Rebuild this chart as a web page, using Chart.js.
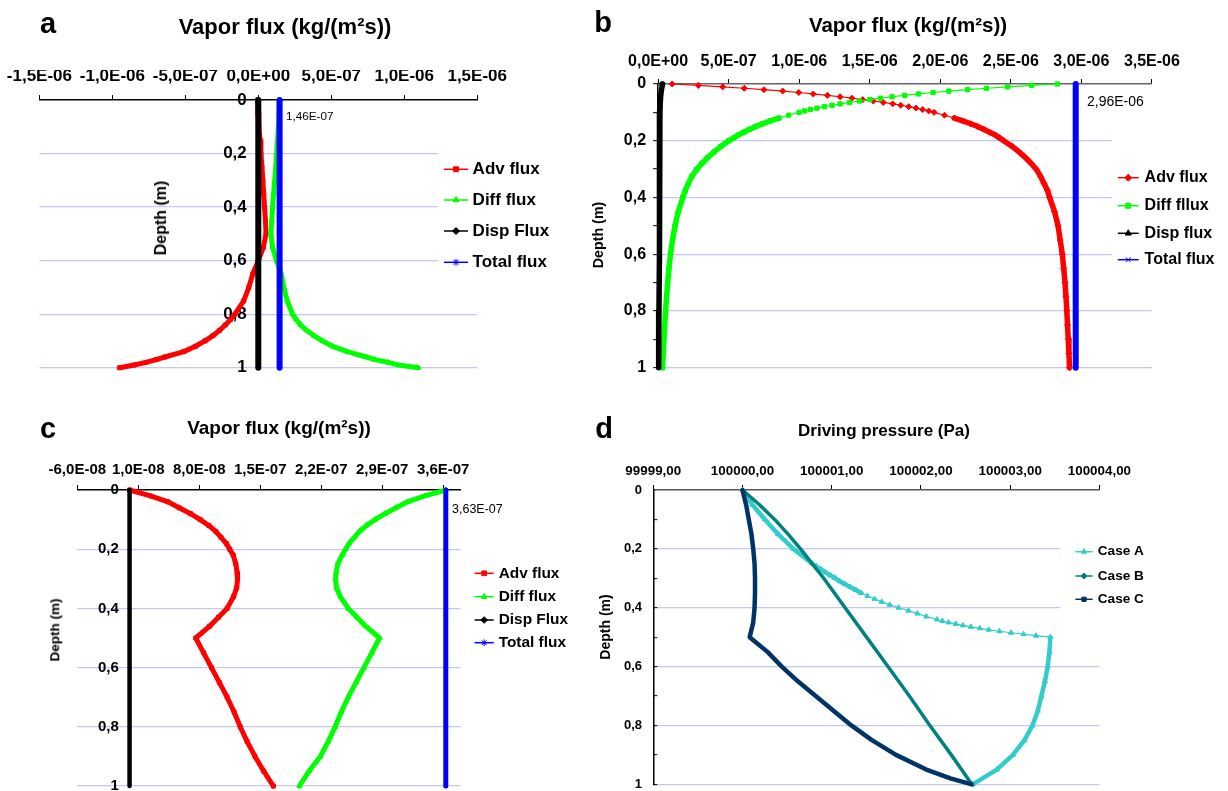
<!DOCTYPE html>
<html>
<head>
<meta charset="utf-8">
<title>Vapor flux profiles</title>
<script src="https://cdn.jsdelivr.net/npm/chart.js@4.4.1/dist/chart.umd.min.js"></script>
<style>
    body { margin: 0; background: #fff; }
    #wrap { position: relative; width: 1228px; height: 791px; overflow: hidden; font-family: "Liberation Sans", Arial, sans-serif; }
    #wrap canvas { position: absolute; left: 0; top: 0; }
    .t { position: absolute; white-space: nowrap; line-height: 1; color: #000; }
    .c { transform: translate(-50%, -50%); }
    .v { transform: translate(-50%, -50%) rotate(-90deg); }
    .l { transform: translate(0, -50%); }
    .b { font-weight: bold; }
</style>
</head>
<body>
<div id="wrap">
    <canvas id="chartA" width="1228" height="791"></canvas>
    <canvas id="chartB" width="1228" height="791"></canvas>
    <canvas id="chartC" width="1228" height="791"></canvas>
    <canvas id="chartD" width="1228" height="791"></canvas>

    <div class="t c b" style="left:48px;top:23px;font-size:29px">a</div>
    <div class="t c b" style="left:285px;top:27px;font-size:22px">Vapor flux (kg/(m²s))</div>
    <div class="t v b" style="left:161px;top:218px;font-size:16px">Depth (m)</div>
    <div class="t l" id="noteA" style="left:286px;top:116px;font-size:11.7px"></div>

    <div class="t c b" style="left:603px;top:22px;font-size:29px">b</div>
    <div class="t c b" style="left:908px;top:25px;font-size:20.5px">Vapor flux (kg/(m²s))</div>
    <div class="t v b" style="left:598px;top:235px;font-size:14.3px">Depth (m)</div>
    <div class="t l" id="noteB" style="left:1087px;top:101px;font-size:14px"></div>

    <div class="t c b" style="left:48px;top:428px;font-size:29px">c</div>
    <div class="t c b" style="left:279px;top:427px;font-size:19px">Vapor flux (kg/(m²s))</div>
    <div class="t v b" style="left:55px;top:630px;font-size:13.5px">Depth (m)</div>
    <div class="t l" id="noteC" style="left:452px;top:509px;font-size:12.5px"></div>

    <div class="t c b" style="left:604px;top:428px;font-size:29px">d</div>
    <div class="t c b" style="left:884px;top:430px;font-size:17px">Driving pressure (Pa)</div>
    <div class="t v b" style="left:605px;top:627px;font-size:14px">Depth (m)</div>
</div>

<script>
// ---------- panel a ----------
const xTicksA = [-1.5e-6, -1.0e-6, -5.0e-7, 0, 5.0e-7, 1.0e-6, 1.5e-6];
const depthA = [0, 0.05, 0.1, 0.15, 0.2, 0.25, 0.3, 0.35, 0.4, 0.45, 0.5, 0.55, 0.6, 0.65, 0.7, 0.75,
    0.8, 0.82, 0.84, 0.86, 0.88, 0.9, 0.92, 0.94, 0.96, 0.97, 0.98, 0.99, 1];
const advA = [-5e-9, -2e-9, 4e-9, 1.2e-8, 1.8e-8, 2.5e-8, 3.1e-8, 3.7e-8, 4.3e-8, 4.9e-8, 5.3e-8, 3.5e-8, 0,
    -3.8e-8, -6.5e-8, -1.0e-7, -1.6e-7, -1.9e-7, -2.25e-7, -2.65e-7, -3.1e-7, -3.65e-7, -4.3e-7, -5.1e-7,
    -6.4e-7, -7.0e-7, -7.7e-7, -8.5e-7, -9.5e-7];
const diffA = [1.46e-7, 1.42e-7, 1.38e-7, 1.32e-7, 1.26e-7, 1.2e-7, 1.13e-7, 1.05e-7, 9.8e-8, 9.2e-8, 8.6e-8,
    9.8e-8, 1.25e-7, 1.58e-7, 1.75e-7, 1.98e-7, 2.35e-7, 2.6e-7, 2.9e-7, 3.3e-7, 3.8e-7, 4.4e-7, 5.1e-7,
    6.1e-7, 7.4e-7, 8.0e-7, 8.9e-7, 9.6e-7, 1.095e-6];
const depthLineA = [0, 1];
const dispA = [0, 0];
const totalA = [1.46e-7, 1.46e-7];

// ---------- panel b ----------
const xTicksB = [0, 5e-7, 1e-6, 1.5e-6, 2e-6, 2.5e-6, 3e-6, 3.5e-6];
const depthB = [0, 0.005, 0.01, 0.015, 0.02, 0.025, 0.03, 0.035, 0.04, 0.045, 0.05, 0.055, 0.06, 0.065,
    0.07, 0.075, 0.08, 0.085, 0.09, 0.095, 0.1, 0.11, 0.12, 0.13, 0.14, 0.15, 0.16, 0.17, 0.18, 0.19, 0.2,
    0.22, 0.24, 0.26, 0.28, 0.3, 0.325, 0.35, 0.375, 0.4, 0.45, 0.5, 0.55, 0.6, 0.65, 0.7, 0.75, 0.8, 0.85,
    0.9, 0.95, 1];
const advB = [1.00e-7, 2.85e-7, 4.58e-7, 6.11e-7, 7.50e-7, 8.83e-7, 9.97e-7, 1.100e-6, 1.200e-6, 1.290e-6,
    1.374e-6, 1.450e-6, 1.525e-6, 1.596e-6, 1.663e-6, 1.720e-6, 1.776e-6, 1.828e-6, 1.875e-6, 1.918e-6,
    1.956e-6, 2.030e-6, 2.100e-6, 2.160e-6, 2.215e-6, 2.265e-6, 2.310e-6, 2.350e-6, 2.390e-6, 2.420e-6,
    2.450e-6, 2.510e-6, 2.560e-6, 2.605e-6, 2.645e-6, 2.680e-6, 2.710e-6, 2.735e-6, 2.760e-6, 2.775e-6,
    2.810e-6, 2.835e-6, 2.850e-6, 2.865e-6, 2.875e-6, 2.884e-6, 2.891e-6, 2.897e-6, 2.902e-6, 2.907e-6,
    2.912e-6, 2.916e-6];
const diffB = [2.830e-6, 2.647e-6, 2.477e-6, 2.327e-6, 2.192e-6, 2.061e-6, 1.949e-6, 1.847e-6, 1.748e-6,
    1.659e-6, 1.576e-6, 1.501e-6, 1.427e-6, 1.356e-6, 1.290e-6, 1.233e-6, 1.178e-6, 1.126e-6, 1.079e-6,
    1.037e-6, 9.99e-7, 9.25e-7, 8.56e-7, 7.96e-7, 7.41e-7, 6.91e-7, 6.47e-7, 6.07e-7, 5.67e-7, 5.37e-7,
    5.00e-7, 4.45e-7, 3.95e-7, 3.50e-7, 3.10e-7, 2.75e-7, 2.40e-7, 2.15e-7, 1.93e-7, 1.75e-7, 1.43e-7,
    1.20e-7, 1.02e-7, 8.8e-8, 7.7e-8, 6.8e-8, 6.0e-8, 5.3e-8, 4.7e-8, 4.1e-8, 3.6e-8, 3.1e-8];
const depthDispB = [0, 0.01, 0.02, 0.04, 0.06, 0.1, 0.2, 0.4, 0.6, 0.8, 1];
const dispB = [3.2e-8, 2.8e-8, 2.4e-8, 1.9e-8, 1.6e-8, 1.3e-8, 1.1e-8, 1.0e-8, 8e-9, 6e-9, 4e-9];
const depthLineB = [0, 1];
const totalB = [2.96e-6, 2.96e-6];

// ---------- panel c ----------
const xTicksC = [-6e-8, 1e-8, 8e-8, 1.5e-7, 2.2e-7, 2.9e-7, 3.6e-7];
const depthC = [0, 0.02, 0.04, 0.06, 0.08, 0.1, 0.12, 0.14, 0.16, 0.18, 0.2, 0.22, 0.25, 0.28, 0.3, 0.33,
    0.36, 0.4, 0.43, 0.46, 0.5, 0.55, 0.6, 0.65, 0.7, 0.75, 0.8, 0.85, 0.9, 0.95, 1];
const advC = [0, 2.4e-8, 4.4e-8, 5.7e-8, 7.0e-8, 8.1e-8, 9.1e-8, 9.9e-8, 1.05e-7, 1.11e-7, 1.15e-7,
    1.19e-7, 1.22e-7, 1.235e-7, 1.24e-7, 1.23e-7, 1.195e-7, 1.12e-7, 1.02e-7, 9.2e-8, 7.6e-8, 8.5e-8,
    9.4e-8, 1.03e-7, 1.12e-7, 1.2e-7, 1.27e-7, 1.35e-7, 1.44e-7, 1.54e-7, 1.65e-7];
const diffC = [3.63e-7, 3.39e-7, 3.19e-7, 3.06e-7, 2.93e-7, 2.82e-7, 2.72e-7, 2.64e-7, 2.58e-7, 2.52e-7,
    2.48e-7, 2.44e-7, 2.39e-7, 2.37e-7, 2.365e-7, 2.375e-7, 2.42e-7, 2.51e-7, 2.61e-7, 2.71e-7, 2.87e-7,
    2.78e-7, 2.69e-7, 2.60e-7, 2.51e-7, 2.43e-7, 2.36e-7, 2.28e-7, 2.19e-7, 2.06e-7, 1.95e-7];
const depthLineC = [0, 1];
const dispC = [0, 0];
const totalC = [3.63e-7, 3.63e-7];

// ---------- panel d ----------
const xTicksD = [99999, 100000, 100001, 100002, 100003, 100004];
const depthCaseA = [0, 0.05, 0.1, 0.15, 0.2, 0.25, 0.26, 0.27, 0.28, 0.29, 0.3, 0.31, 0.32, 0.33, 0.34,
    0.35, 0.36, 0.37, 0.38, 0.39, 0.4, 0.41, 0.42, 0.43, 0.44, 0.445, 0.45, 0.455, 0.46, 0.465, 0.47,
    0.475, 0.48, 0.485, 0.49, 0.495, 0.5, 0.55, 0.6, 0.65, 0.7, 0.75, 0.8, 0.85, 0.9, 0.95, 1];
const caseA = [100000.00, 100000.11, 100000.25, 100000.40, 100000.57, 100000.78, 100000.83, 100000.88,
    100000.93, 100000.985, 100001.04, 100001.09, 100001.15, 100001.21, 100001.27, 100001.33, 100001.40,
    100001.48, 100001.56, 100001.65, 100001.75, 100001.86, 100001.96, 100002.06, 100002.18, 100002.24,
    100002.31, 100002.39, 100002.47, 100002.56, 100002.66, 100002.76, 100002.88, 100003.01, 100003.15,
    100003.29, 100003.45, 100003.44, 100003.42, 100003.39, 100003.35, 100003.31, 100003.25, 100003.16,
    100003.03, 100002.85, 100002.58];
const depthCaseB = [0, 0.05, 0.1, 0.15, 0.2, 0.25, 0.3, 0.4, 0.5, 0.6, 0.7, 0.8, 0.9, 1];
const caseB = [100000.00, 100000.19, 100000.36, 100000.51, 100000.65, 100000.78, 100000.91, 100001.15,
    100001.39, 100001.63, 100001.87, 100002.10, 100002.34, 100002.57];
const depthCaseC = [0, 0.05, 0.1, 0.15, 0.2, 0.25, 0.3, 0.35, 0.4, 0.45, 0.5, 0.55, 0.6, 0.65, 0.7, 0.75,
    0.8, 0.85, 0.9, 0.95, 0.98, 1];
const caseC = [100000.00, 100000.04, 100000.07, 100000.10, 100000.12, 100000.135, 100000.14, 100000.14,
    100000.135, 100000.12, 100000.08, 100000.28, 100000.44, 100000.62, 100000.82, 100001.02, 100001.22,
    100001.45, 100001.72, 100002.06, 100002.33, 100002.57];

const depthTicks = [0, 0.2, 0.4, 0.6, 0.8, 1];
const depthTicksFine = [0, 0.1, 0.2, 0.3, 0.4, 0.5, 0.6, 0.7, 0.8, 0.9, 1];

const FONT = '"Liberation Sans", Arial, sans-serif';
const GRID = '#c6c6f4';

// "1,5E-06" style labels, like the spreadsheet did them
function sci(v, digits) {
    if (Math.abs(v) < 1e-15) v = 0;
    const parts = v.toExponential(digits).split('e');
    const exp = parseInt(parts[1], 10);
    return parts[0].replace('.', ',') + 'E' + (exp < 0 ? '-' : '+') + String(Math.abs(exp)).padStart(2, '0');
}

function depthLabel(v) {
    const t = Math.round(v * 10);
    if (t % 2) return '';
    if (t === 0) return '0';
    if (t === 10) return '1';
    return (t / 10).toFixed(1).replace('.', ',');
}

function pts(xs, ys) {
    return xs.map((x, i) => ({ x: x, y: ys[i] }));
}

// where the markers sit close together the line looks like a thick band
function band(thick, thin, step) {
    return ctx => {
        const data = ctx.chart.data.datasets[ctx.datasetIndex].data;
        const dd = Math.abs(data[ctx.p1DataIndex].y - data[ctx.p0DataIndex].y) || step;
        const dp = Math.hypot(ctx.p1.x - ctx.p0.x, ctx.p1.y - ctx.p0.y);
        return dp * step / dd < 5 ? thick : thin;
    };
}

function series(label, values, depths, color, style, o) {
    return {
        label: label,
        data: pts(values, depths),
        showLine: true,
        borderColor: color,
        backgroundColor: color,
        pointStyle: style,
        pointRadius: o.r,
        pointBorderWidth: 1,
        pointBackgroundColor: color,
        pointBorderColor: color,
        borderWidth: o.thick,
        borderCapStyle: 'round',
        borderJoinStyle: 'round',
        segment: { borderWidth: band(o.thick, o.thin, o.step) },
        order: o.order,
        clip: false
    };
}

function xScale(ticks, min, max, size, pad, fmt, borderColor) {
    return {
        type: 'linear', position: 'top', min: min, max: max,
        afterBuildTicks: s => { s.ticks = ticks.map(v => ({ value: v })); },
        afterFit: s => { s.height = 30; s.paddingLeft = 0; s.paddingRight = 0; },
        ticks: {
            autoSkip: false, maxRotation: 0, minRotation: 0, padding: pad, color: '#000',
            font: { family: FONT, size: size, weight: 'bold' }, callback: fmt
        },
        grid: { drawOnChartArea: false, drawTicks: true, tickLength: 5, tickColor: '#000', tickWidth: 1 },
        border: { display: true, color: borderColor, width: 1.5 }
    };
}

function gridColor(ctx) {
    if (!ctx.tick) return 'rgba(0,0,0,0)';
    const t = Math.round(ctx.tick.value * 10);
    return (t > 0 && t % 2 === 0) ? GRID : 'rgba(0,0,0,0)';
}

function yScale(ticks, position, size, extra) {
    return {
        type: 'linear', position: position, reverse: true, min: 0, max: 1,
        afterBuildTicks: sc => { sc.ticks = ticks.map(v => ({ value: v })); },
        afterFit: sc => {
            if (extra.width) sc.width = extra.width;
            sc.paddingTop = 0; sc.paddingBottom = 0;
        },
        ticks: {
            autoSkip: false, padding: extra.pad || 0, color: '#000',
            font: { family: FONT, size: size, weight: 'bold' }, callback: depthLabel
        },
        grid: {
            color: gridColor, lineWidth: 1.3, drawTicks: !!extra.tick,
            tickLength: extra.tick || 0, tickColor: '#000', tickWidth: 1
        },
        border: { display: !!extra.border, color: '#000', width: 1.5 }
    };
}

const sideLegend = {
    id: 'sideLegend',
    afterDraw(chart, args, o) {
        const ctx = chart.ctx;
        ctx.save();
        if (o.cover) {
            ctx.fillStyle = '#fff';
            ctx.fillRect(o.cover[0], o.cover[1], o.cover[2], o.cover[3]);
        }
        chart.data.datasets.forEach((ds, i) => {
            const y = o.rows[i];
            ctx.strokeStyle = ds.borderColor;
            ctx.fillStyle = ds.borderColor;
            ctx.lineWidth = 1.5;
            ctx.beginPath();
            ctx.moveTo(o.x0, y);
            ctx.lineTo(o.x1, y);
            ctx.stroke();
            ctx.lineWidth = 1;
            Chart.helpers.drawPoint(ctx, { pointStyle: ds.pointStyle, radius: o.r, borderWidth: 1, rotation: 0 }, (o.x0 + o.x1) / 2, y);
            ctx.fillStyle = '#000';
            ctx.font = 'bold ' + o.size + 'px ' + FONT;
            ctx.textBaseline = 'middle';
            ctx.textAlign = 'left';
            ctx.fillText(ds.label, o.tx, y);
        });
        ctx.restore();
    }
};

function makeChart(id, datasets, scales, padding, legend) {
    return new Chart(document.getElementById(id), {
        type: 'scatter',
        data: { datasets: datasets },
        options: {
            responsive: false,
            animation: false,
            events: [],
            layout: { padding: padding },
            plugins: { legend: { display: false }, tooltip: { enabled: false }, sideLegend: legend },
            scales: scales
        },
        plugins: [sideLegend]
    });
}

// panel a
makeChart('chartA', [
    series('Adv flux', advA, depthA, '#ff0000', 'rect', { r: 2.8, thick: 5, thin: 1.2, step: 0.0025, order: 4 }),
    series('Diff flux', diffA, depthA, '#00ff00', 'triangle', { r: 3, thick: 5, thin: 1.2, step: 0.0025, order: 3 }),
    series('Disp Flux', dispA, depthLineA, '#000000', 'rectRot', { r: 0, thick: 6, thin: 6, step: 0.0025, order: 2 }),
    series('Total flux', totalA, depthLineA, '#0000ff', 'star', { r: 0, thick: 6, thin: 6, step: 0.0025, order: 1 })
], {
    x: xScale(xTicksA, -1.5e-6, 1.5e-6, 17, 8, v => sci(v, 1), '#000'),
    y: yScale(depthTicks, { x: -7.9e-8 }, 17, {})
}, { left: 39.4, right: 750.8, top: 70, bottom: 423.3 },
{ x0: 444, x1: 468, tx: 472.6, rows: [169.3, 200, 231, 262.3], size: 17, r: 3.5, cover: [438, 145, 50, 140] });

// panel b
makeChart('chartB', [
    series('Adv flux', advB, depthB, '#ff0000', 'rectRot', { r: 3, thick: 5.5, thin: 1.2, step: 0.005, order: 4 }),
    series('Diff fllux', diffB, depthB, '#00ff00', 'rect', { r: 3, thick: 5.5, thin: 1.2, step: 0.005, order: 3 }),
    series('Disp flux', dispB, depthDispB, '#000000', 'triangle', { r: 0, thick: 5.5, thin: 5.5, step: 0.005, order: 2 }),
    series('Total flux', totalB, depthLineB, '#0000ff', 'crossRot', { r: 0, thick: 6, thin: 6, step: 0.005, order: 1 })
], {
    x: xScale(xTicksB, 0, 3.5e-6, 16, 7.7, v => sci(v, 1), '#666'),
    y: yScale(depthTicksFine, 'left', 16, { width: 50, pad: 7, tick: 5, border: true })
}, { left: 608.1, right: 76.1, top: 54, bottom: 423.3 },
{ x0: 1117.8, x1: 1138.7, tx: 1144.6, rows: [177.7, 205.7, 233.3, 259.7], size: 16, r: 3.5, cover: [1111.8, 135, 116, 150] });

// panel c
makeChart('chartC', [
    series('Adv flux', advC, depthC, '#ff0000', 'rect', { r: 2.8, thick: 5, thin: 1.2, step: 0.0025, order: 4 }),
    series('Diff flux', diffC, depthC, '#00ff00', 'triangle', { r: 3, thick: 5, thin: 1.2, step: 0.0025, order: 3 }),
    series('Disp Flux', dispC, depthLineC, '#000000', 'rectRot', { r: 0, thick: 4.5, thin: 4.5, step: 0.0025, order: 2 }),
    series('Total flux', totalC, depthLineC, '#0000ff', 'star', { r: 0, thick: 5, thin: 5, step: 0.0025, order: 1 })
], {
    x: xScale(xTicksC, -6e-8, 3.8e-7, 15, 6, v => sci(v, 1), '#000'),
    y: yScale(depthTicks, { x: -1.23e-8 }, 15, {})
}, { left: 77.3, right: 767.4, top: 460, bottom: 4.3 },
{ x0: 474.6, x1: 493.7, tx: 498.7, rows: [573.3, 596.7, 620, 642.7], size: 15.4, r: 3.3 });

// panel d
makeChart('chartD', [
    series('Case A', caseA, depthCaseA, '#33cccc', 'triangle', { r: 3, thick: 4.5, thin: 1.2, step: 0.008, order: 3 }),
    series('Case B', caseB, depthCaseB, '#008080', 'rectRot', { r: 0, thick: 3.5, thin: 3.5, step: 0.005, order: 2 }),
    series('Case C', caseC, depthCaseC, '#003366', 'rect', { r: 0, thick: 4.5, thin: 4.5, step: 0.005, order: 1 })
], {
    x: xScale(xTicksD, 99999, 100004, 13.4, 6, v => v.toFixed(2).replace('.', ','), '#555'),
    y: yScale(depthTicksFine, 'left', 13, { width: 50, pad: 15.3, tick: -4, border: true })
}, { left: 603.3, right: 128.6, top: 460, bottom: 6.7 },
{ x0: 1075.4, x1: 1092.6, tx: 1097.8, rows: [551.7, 576, 599.3], size: 13.6, r: 3, cover: [1060.6, 540, 167, 85] });

// value notes next to the total flux lines
document.getElementById('noteA').textContent = sci(totalA[0], 2);
document.getElementById('noteB').textContent = sci(totalB[0], 2);
document.getElementById('noteC').textContent = sci(totalC[0], 2);
</script>
</body>
</html>
